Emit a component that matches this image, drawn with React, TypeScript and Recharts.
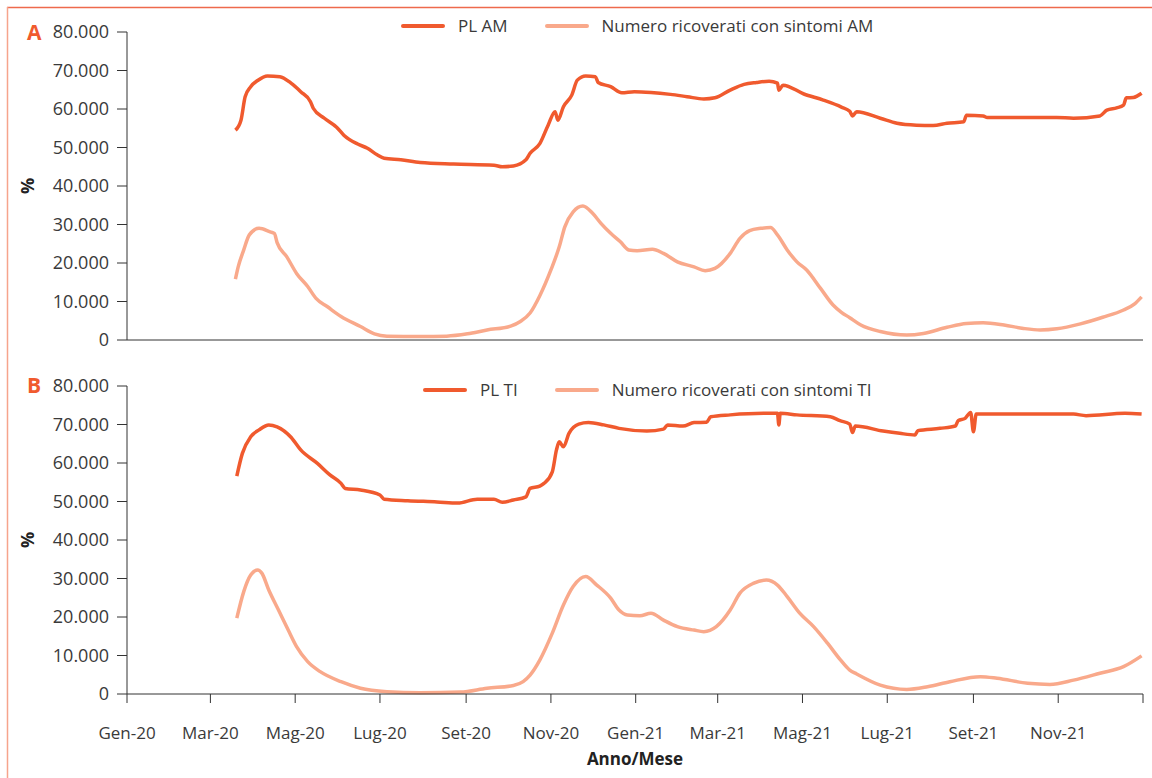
import { LineChart, Line, XAxis, YAxis, Legend } from "recharts";

// giorni contati dal 1 gennaio 2020
const GIORNI_TICK = [0, 60, 121, 182, 244, 305, 366, 425, 486, 547, 609, 670, 731];
const ETICHETTE_MESI = [
  "Gen-20", "Mar-20", "Mag-20", "Lug-20", "Set-20", "Nov-20",
  "Gen-21", "Mar-21", "Mag-21", "Lug-21", "Set-21", "Nov-21", "",
];
const Y_TICKS = [0, 10000, 20000, 30000, 40000, 50000, 60000, 70000, 80000];

// A - area medica
const plAmGiorni = [
  78, 82, 85, 89, 94, 101, 110, 118, 125, 132, 134, 142, 151, 156, 166, 173, 180, 185, 197, 211,
  235, 264, 270, 278, 287, 290, 297, 303, 308, 310, 314, 320, 324, 330, 337, 339, 348, 356, 365,
  377, 391, 403, 415, 423, 434, 444, 453, 462, 468, 469, 472, 487, 501, 514, 520, 522, 525, 542,
  554, 568, 580, 590, 602, 604, 616, 619, 645, 669, 681, 700, 705, 712, 717, 719, 724, 730,
];
const plAmValori = [
  54500, 57100, 63200, 65800, 67400, 68600, 68400, 66700, 64500, 61900, 60200, 57600, 55200, 53200,
  50900, 49800, 48100, 47200, 46800, 46100, 45700, 45400, 45000, 45200, 46800, 48500, 51000, 55800,
  59300, 57100, 60600, 63600, 67500, 68600, 68400, 66900, 65800, 64200, 64500, 64300, 63800, 63200,
  62600, 62900, 64900, 66400, 66900, 67200, 66700, 64900, 66200, 63900, 62300, 60500, 59400, 58200,
  59300, 57600, 56300, 55800, 55700, 56300, 56700, 58400, 58200, 57800, 57800, 57800, 57600, 58200,
  59700, 60300, 61000, 62900, 63000, 64100,
];

const ricAmGiorni = [
  78, 80, 84, 88, 95, 103, 106, 108, 115, 122, 130, 136, 144, 154, 168, 178, 187, 211, 230, 245,
  259, 276, 283, 290, 297, 305, 311, 315, 321, 328, 335, 341, 348, 355, 361, 367, 378, 386, 396,
  408, 416, 423, 434, 441, 448, 456, 463, 468, 475, 482, 489, 499, 508, 514, 520, 528, 542, 561,
  573, 590, 604, 616, 631, 645, 657, 669, 686, 702, 717, 725, 730,
];
const ricAmValori = [
  15800, 19000, 23400, 27300, 29000, 28100, 27700, 25300, 21600, 17300, 13900, 10800, 8700, 6100,
  3500, 1600, 1000, 900, 1000, 1600, 2600, 3600, 4800, 7000, 11500, 18200, 24200, 29400, 33300,
  34800, 32900, 30300, 27700, 25500, 23400, 23200, 23600, 22500, 20300, 19000, 18000, 18600, 22500,
  26400, 28400, 29000, 29200, 27300, 23400, 20300, 18200, 13400, 9100, 7200, 5800, 3900, 2200, 1300,
  1700, 3300, 4300, 4500, 3900, 3000, 2600, 2900, 4200, 5900, 7800, 9400, 11200,
];

// B - terapia intensiva
const plTiGiorni = [
  79, 83, 89, 95, 102, 108, 118, 125, 137, 146, 154, 157, 168, 182, 185, 202, 223, 238, 252, 264,
  270, 278, 287, 290, 297, 300, 306, 309, 311, 314, 318, 325, 332, 343, 354, 374, 386, 389, 400,
  408, 417, 420, 434, 458, 468, 469, 470, 482, 506, 513, 520, 522, 524, 544, 556, 567, 569, 585,
  596, 598, 603, 607, 609, 611, 633, 681, 690, 718, 730,
];
const plTiValori = [
  56600, 62500, 66800, 68600, 69900, 69400, 66700, 63400, 59900, 56900, 54700, 53400, 53000, 51700,
  50600, 50200, 49900, 49600, 50600, 50600, 49800, 50400, 51200, 53400, 54000, 54700, 57700, 63400,
  65500, 64200, 67700, 70100, 70500, 69900, 69000, 68300, 68800, 69900, 69600, 70500, 70600, 72000,
  72500, 72900, 72900, 69900, 72900, 72500, 72000, 71000, 70100, 67900, 69600, 68300, 67700, 67300,
  68400, 69000, 69600, 71000, 71600, 73100, 68100, 72700, 72700, 72700, 72300, 72900, 72700,
];

const ricTiGiorni = [
  79, 84, 89, 94, 97, 102, 109, 116, 122, 130, 139, 154, 168, 187, 211, 240, 259, 278, 285, 290,
  297, 306, 314, 321, 330, 338, 348, 354, 360, 369, 377, 386, 396, 408, 415, 424, 434, 441, 451,
  460, 468, 475, 484, 494, 504, 513, 520, 525, 542, 561, 576, 592, 614, 626, 648, 664, 681, 700,
  717, 730,
];
const ricTiValori = [
  19700, 26600, 30900, 32200, 31400, 27000, 21800, 16600, 12300, 8400, 5800, 3200, 1500, 600, 300,
  500, 1500, 2200, 3200, 4900, 8800, 15800, 23100, 27900, 30500, 28300, 24900, 21800, 20500, 20300,
  21000, 19200, 17500, 16600, 16200, 17500, 21800, 26200, 28800, 29600, 28300, 25300, 21000, 17500,
  13200, 9000, 6200, 5200, 2300, 1200, 1900, 3200, 4500, 4100, 2800, 2500, 3600, 5400, 7100, 9900,
];

const ARANCIO = "#f05a2e";
const SALMONE = "#f9a98b";
const TESTO = "#3a3a3a";

const toSerie = (giorni: number[], valori: number[]) =>
  giorni.map((g, i) => ({ giorno: g, valore: valori[i] }));

const formatY = (v: number) => (v === 0 ? "0" : `${v / 1000}.000`);
const formatX = (v: number) => ETICHETTE_MESI[GIORNI_TICK.indexOf(v)] ?? "";

// legenda nell'ordine delle serie (PL prima)
const legendaInOrdine = (ordine: string[]) => ({ payload }: any) => {
  const voci = [...(payload || [])].sort((a: any, b: any) => ordine.indexOf(a.value) - ordine.indexOf(b.value));
  return (
    <div style={{ display: "flex", alignItems: "center", fontSize: 17, color: TESTO, whiteSpace: "nowrap" }}>
      {voci.map((p: any, i: number) => (
        <div key={p.value} style={{ display: "flex", alignItems: "center", marginLeft: i === 0 ? 0 : 37 }}>
          <span style={{ display: "inline-block", width: 44, height: 4, borderRadius: 2, background: p.color, marginRight: 13 }} />
          <span>{p.value}</span>
        </div>
      ))}
    </div>
  );
};

type PannelloProps = {
  top: number;
  height: number;
  xHeight: number;
  pl: { giorno: number; valore: number }[];
  ric: { giorno: number; valore: number }[];
  nomePl: string;
  nomeRic: string;
  legendLeft: number;
  legendTop: number;
  conEtichette: boolean;
};

function Pannello(props: PannelloProps) {
  const { top, height, xHeight, pl, ric, nomePl, nomeRic, legendLeft, legendTop, conEtichette } = props;
  return (
    <div style={{ position: "absolute", left: 0, top }}>
      <LineChart width={1152} height={height} margin={{ top: 32, right: 9, left: 0, bottom: 0 }}>
        <XAxis
          dataKey="giorno"
          type="number"
          domain={[0, 731]}
          ticks={GIORNI_TICK}
          interval={0}
          height={xHeight}
          tickSize={9}
          tickMargin={24}
          tickFormatter={formatX}
          tick={conEtichette ? { fill: TESTO, fontSize: 17 } : false}
          axisLine={{ stroke: "#333" }}
          tickLine={{ stroke: "#333" }}
          label={conEtichette ? { value: "Anno/Mese", position: "insideBottom", offset: 9, fill: "#222", fontSize: 17, fontWeight: 700 } : undefined}
        />
        <YAxis
          type="number"
          domain={[0, 80000]}
          ticks={Y_TICKS}
          width={127}
          tickSize={10}
          tickMargin={8}
          tickFormatter={formatY}
          tick={{ fill: TESTO, fontSize: 18 }}
          axisLine={{ stroke: "#333" }}
          tickLine={{ stroke: "#333" }}
        />
        <Legend
          verticalAlign="middle"
          layout="horizontal"
          wrapperStyle={{ top: legendTop, left: legendLeft, width: "auto" }}
          content={legendaInOrdine([nomePl, nomeRic])}
        />
        <Line data={pl} dataKey="valore" name={nomePl} type="monotone" stroke={ARANCIO} strokeWidth={3.5} dot={false} isAnimationActive={false} />
        <Line data={ric} dataKey="valore" name={nomeRic} type="monotone" stroke={SALMONE} strokeWidth={3.5} dot={false} isAnimationActive={false} />
      </LineChart>
    </div>
  );
}

export default function App() {
  return (
    <div style={{ position: "absolute", left: 0, top: 0, width: 1152, height: 778, fontFamily: "'Open Sans', sans-serif", background: "#fff" }}>
      <Pannello
        top={0}
        height={360}
        xHeight={20}
        pl={toSerie(plAmGiorni, plAmValori)}
        ric={toSerie(ricAmGiorni, ricAmValori)}
        nomePl="PL AM"
        nomeRic="Numero ricoverati con sintomi AM"
        legendLeft={401}
        legendTop={14}
        conEtichette={false}
      />
      <Pannello
        top={354}
        height={420}
        xHeight={80}
        pl={toSerie(plTiGiorni, plTiValori)}
        ric={toSerie(ricTiGiorni, ricTiValori)}
        nomePl="PL TI"
        nomeRic="Numero ricoverati con sintomi TI"
        legendLeft={423}
        legendTop={24}
        conEtichette={true}
      />
      <svg width={1152} height={778} style={{ position: "absolute", left: 0, top: 0, pointerEvents: "none" }}>
        <line x1={7} y1={7.5} x2={1152} y2={7.5} stroke="#ee6a4d" strokeWidth={1.5} />
        <line x1={7.5} y1={7} x2={7.5} y2={778} stroke="#f6a48c" strokeWidth={1.5} />
        <text x={27} y={40} fontSize={21} fontWeight={700} fill={ARANCIO}>A</text>
        <text x={27} y={393} fontSize={21} fontWeight={700} fill={ARANCIO}>B</text>
        <text transform="translate(34,186) rotate(-90)" textAnchor="middle" fontSize={18} fontWeight={700} fill="#222">%</text>
        <text transform="translate(34,540) rotate(-90)" textAnchor="middle" fontSize={18} fontWeight={700} fill="#222">%</text>
      </svg>
    </div>
  );
}
